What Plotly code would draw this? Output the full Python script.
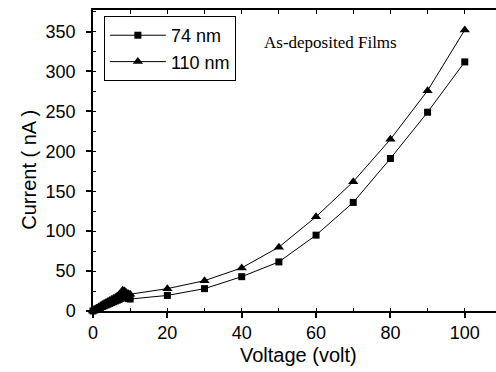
import plotly.graph_objects as go

# I-V data for the two film thicknesses
voltage = [0, 0.5, 1, 1.5, 2, 2.5, 3, 3.5, 4, 4.5, 5, 5.5, 6, 6.5, 7, 7.5,
           8, 8.5, 9, 9.5, 10, 20, 30, 40, 50, 60, 70, 80, 90, 100]
current_74nm = [0, 1.5, 2.5, 3.5, 4.5, 5.5, 6.5, 7.5, 8.5, 9.5, 10.5, 11.5, 12.5, 13.5, 14.5, 16,
                18, 17.5, 16.5, 15.5, 15, 19.5, 28, 43, 61.5, 95, 136, 191, 249, 312]
current_110nm = [0, 2, 3.5, 5, 6.5, 8, 9.5, 10.5, 12, 13, 14.5, 15.5, 17, 18.5, 20.5, 23,
                 26, 25, 23, 21.5, 21, 28, 38, 54, 80, 118, 162, 215, 276, 352]

x_ticks = [0, 20, 40, 60, 80, 100]
y_ticks = [0, 50, 100, 150, 200, 250, 300, 350]

FONT = "Liberation Sans, Arial, sans-serif"
X_RANGE = [0, 108.4]
Y_RANGE = [0, 377]

fig = go.Figure()

fig.add_trace(go.Scatter(
    x=voltage, y=current_74nm, name="74 nm", mode="lines+markers",
    line=dict(color="black", width=1),
    marker=dict(symbol="square", size=7, color="black"),
    cliponaxis=False,
))
fig.add_trace(go.Scatter(
    x=voltage, y=current_110nm, name="110 nm", mode="lines+markers",
    line=dict(color="black", width=1),
    marker=dict(symbol="triangle-up", size=9, color="black"),
    cliponaxis=False,
))

# in-plot label
fig.add_annotation(
    x=45.5, y=336, xref="x", yref="y", xanchor="left", yanchor="middle",
    text="As-deposited Films", showarrow=False,
    font=dict(family="Liberation Serif, Times New Roman, serif", size=17, color="black"),
)
# axis titles
fig.add_annotation(
    x=0.511, y=-0.146, xref="paper", yref="paper", xanchor="center", yanchor="middle",
    text="Voltage (volt)", showarrow=False,
    font=dict(family=FONT, size=20, color="black"),
)
fig.add_annotation(
    x=-0.159, y=0.469, xref="paper", yref="paper", xanchor="center", yanchor="middle",
    text="Current ( nA )", textangle=-90, showarrow=False,
    font=dict(family=FONT, size=20, color="black"),
)

fig.update_layout(
    width=496, height=372,
    margin=dict(l=93, r=0, t=10, b=61, pad=0),
    paper_bgcolor="white", plot_bgcolor="white",
    font=dict(family=FONT, color="black"),
    showlegend=True,
    legend=dict(
        x=0.027, y=0.98, xanchor="left", yanchor="top",
        bgcolor="white", bordercolor="black", borderwidth=1,
        font=dict(family=FONT, size=18, color="black"),
        itemwidth=56, tracegroupgap=0,
    ),
    xaxis=dict(
        range=X_RANGE, tickvals=x_ticks, ticktext=[str(v) for v in x_ticks],
        showgrid=False, zeroline=False,
        showline=True, linecolor="black", linewidth=1.5, mirror=True,
        ticks="outside", ticklen=5, tickwidth=1.5, tickcolor="black",
        minor=dict(dtick=10, tick0=0, ticks="inside", ticklen=3, tickwidth=1.2,
                   tickcolor="black", showgrid=False),
        tickfont=dict(family=FONT, size=18, color="black"),
    ),
    xaxis2=dict(
        range=X_RANGE, overlaying="x", side="top", anchor="y", dtick=10, tick0=0,
        showgrid=False, zeroline=False, showline=False, showticklabels=False,
        ticks="inside", ticklen=4, tickwidth=1.2, tickcolor="black",
    ),
    yaxis=dict(
        range=Y_RANGE, tickvals=y_ticks, ticktext=[str(v) for v in y_ticks],
        showgrid=False, zeroline=False,
        showline=True, linecolor="black", linewidth=1.5, mirror=False,
        ticks="outside", ticklen=5, tickwidth=1.5, tickcolor="black",
        ticklabelstandoff=7,
        minor=dict(dtick=25, tick0=0, ticks="inside", ticklen=3, tickwidth=1.2,
                   tickcolor="black", showgrid=False),
        tickfont=dict(family=FONT, size=18, color="black"),
    ),
)

# empty trace bound to the top tick axis so it is rendered
fig.add_trace(go.Scatter(x=[None], y=[None], xaxis="x2", yaxis="y",
                         showlegend=False, hoverinfo="skip"))

fig.write_html("out.html", config={"displayModeBar": False})
